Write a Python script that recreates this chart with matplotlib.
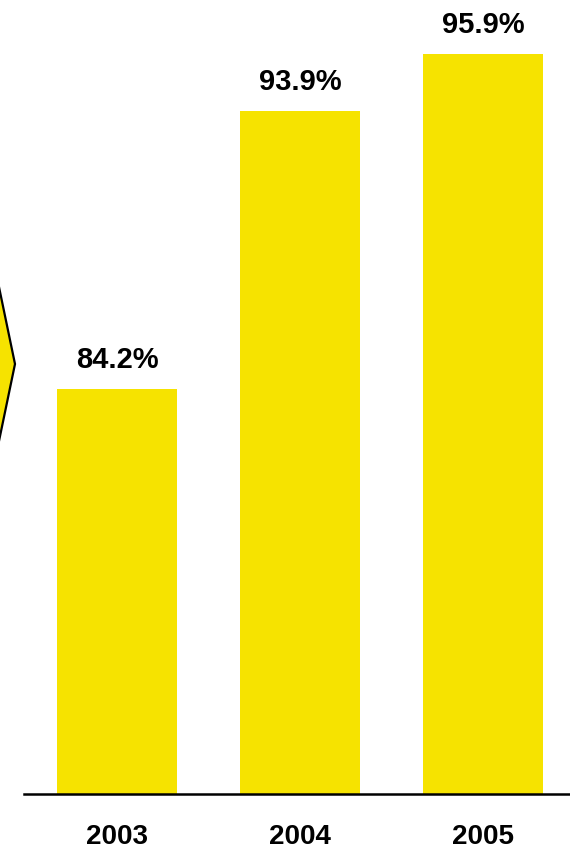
import matplotlib
matplotlib.use('Agg')
import matplotlib.pyplot as plt
from matplotlib.patches import Polygon

years = ['2003', '2004', '2005']
rates = [84.2, 93.9, 95.9]

W, H = 570, 853
yellow = '#F6E300'

plt.rcParams['font.family'] = ['Liberation Sans', 'DejaVu Sans']

fig = plt.figure(figsize=(W / 100, H / 100), dpi=100)
ax = fig.add_axes([24 / W, 58 / H, 1 - 24 / W, 1 - 58 / H])

x = range(len(years))
bars = ax.bar(x, rates, width=0.656, color=yellow, bottom=0, zorder=2)
ax.set_xlim(-0.508, 2.475)
ax.set_ylim(70.07, 97.81)

for xi, r in zip(x, rates):
    ax.annotate(f'{r}%', (xi, r), xytext=(0, 16), textcoords='offset points',
                ha='center', va='baseline', fontsize=21, fontweight='bold')

ax.set_xticks(list(x))
ax.set_xticklabels(years, fontsize=20, fontweight='bold')
ax.tick_params(axis='x', length=0, pad=21)
ax.set_yticks([])
for s in ['top', 'right', 'left']:
    ax.spines[s].set_visible(False)
ax.spines['bottom'].set_linewidth(1.8)
ax.spines['bottom'].set_zorder(3)

# chevron arrow poking in from the left edge
pts = [(-20, 288), (-1, 288), (15, 365), (-1, 442), (-20, 442)]
chev = Polygon([(px / W, 1 - py / H) for px, py in pts], closed=True,
               transform=fig.transFigure, facecolor=yellow, edgecolor='black',
               linewidth=1.6, clip_on=False)
fig.patches.append(chev)

fig.savefig('out.png', dpi=100)
